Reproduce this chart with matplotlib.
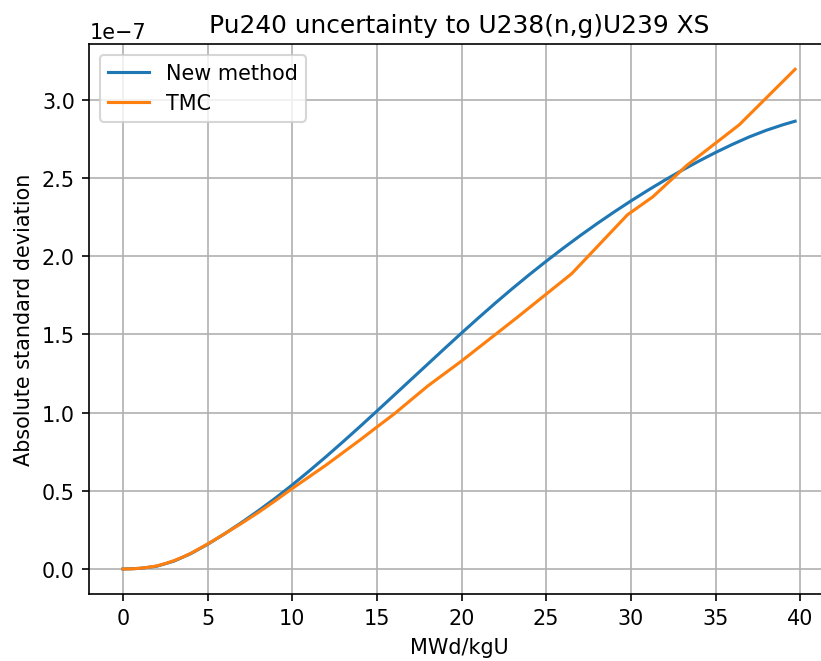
import numpy as np
import matplotlib
matplotlib.use("Agg")
import matplotlib.pyplot as plt

# burnup (MWd/kgU) and absolute std dev (x1e-7)
burnup_new = [0, 1, 2, 3, 4, 5, 6, 7, 8, 9, 10, 11, 12, 13, 14, 15, 16, 17, 18, 19, 20,
              21, 22, 23, 24, 25, 26, 27, 28, 29, 30, 31, 32, 33, 34, 35, 36, 37, 38, 39, 39.7]
std_new = [0.0, 0.004, 0.018, 0.050, 0.098, 0.158, 0.225, 0.297, 0.373, 0.453, 0.538,
           0.627, 0.719, 0.814, 0.911, 1.010, 1.110, 1.210, 1.310, 1.410, 1.509,
           1.606, 1.701, 1.793, 1.882, 1.968, 2.051, 2.131, 2.208, 2.282, 2.353,
           2.421, 2.486, 2.548, 2.607, 2.663, 2.715, 2.763, 2.805, 2.841, 2.863]

burnup_tmc = [0, 0.5, 1, 1.5, 2, 2.5, 3, 3.5, 4, 4.5, 5, 6, 7, 8, 9, 10, 11, 12, 13, 14,
              15, 16, 17, 18, 19, 20, 23.3, 26.5, 29.8, 31.3, 33.3, 36.4, 39.7]
std_tmc = [0.0, 0.001, 0.005, 0.011, 0.02, 0.035, 0.053, 0.075, 0.10, 0.13, 0.16,
           0.225, 0.292, 0.362, 0.437, 0.515, 0.59, 0.665, 0.745, 0.825,
           0.908, 0.99, 1.08, 1.17, 1.25, 1.33, 1.61, 1.888, 2.265, 2.38, 2.58, 2.84, 3.195]

scale = 1e-7

fig = plt.figure(figsize=(821 / 149, 662 / 149), dpi=149)
ax = fig.add_axes([89.4 / 821, 67 / 662, 739.3 / 821, 549.7 / 662])

ax.plot(burnup_new, np.array(std_new) * scale, label="New method")
ax.plot(burnup_tmc, np.array(std_tmc) * scale, label="TMC")

ax.set_title("Pu240 uncertainty to U238(n,g)U239 XS")
ax.set_xlabel("MWd/kgU")
ax.set_ylabel("Absolute standard deviation")
ax.grid(True)
ax.legend(loc="upper left")

fig.savefig("out.png", dpi=149)
